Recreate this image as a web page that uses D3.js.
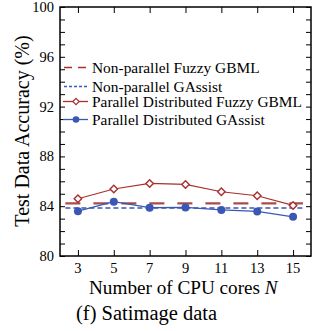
<!DOCTYPE html>
<html>
<head>
<meta charset="utf-8">
<script src="https://cdn.jsdelivr.net/npm/d3@7"></script>
<style>
  body { margin: 0; background: #fff; }
  text { font-family: "Liberation Serif", "Times New Roman", serif; fill: #000; }
</style>
</head>
<body>
<svg id="chart" width="323" height="331"></svg>
<script>
const cores = [3, 5, 7, 9, 11, 13, 15];
const parFuzzy = [84.6, 85.38, 85.83, 85.75, 85.16, 84.84, 84.06];
const parGAssist = [83.6, 84.36, 83.88, 83.9, 83.7, 83.58, 83.15];
const nonParFuzzy = 84.23;
const nonParGAssist = 83.85;
const yTicks = [80, 84, 88, 92, 96, 100];
const legendNames = [
  "Non-parallel Fuzzy GBML",
  "Non-parallel GAssist",
  "Parallel Distributed Fuzzy GBML",
  "Parallel Distributed GAssist"
];

const red = "#a8302f";
const redDash = "#a84c4c";
const blue = "#3a57b4";

const svg = d3.select("#chart");
const pLeft = 60, pRight = 311, pTop = 7, pBottom = 256;

const x = d3.scaleLinear().domain([2, 16]).range([pLeft, pRight]);
const y = d3.scaleLinear().domain([80, 100]).range([pBottom, pTop]);

// ticks, inward on all four sides
const g = svg.append("g");
g.append("g")
  .attr("transform", `translate(${pLeft},0)`)
  .call(d3.axisRight(y).tickValues(d3.range(80, 101, 1)).tickSize(5).tickFormat(""))
  .call((s) => s.select(".domain").remove());
g.append("g")
  .attr("transform", `translate(${pRight},0)`)
  .call(d3.axisLeft(y).tickValues(d3.range(80, 101, 1)).tickSize(5).tickFormat(""))
  .call((s) => s.select(".domain").remove());
g.append("g")
  .attr("transform", `translate(0,${pBottom})`)
  .call(d3.axisTop(x).tickValues(cores).tickSize(6).tickFormat(""))
  .call((s) => s.select(".domain").remove());
g.append("g")
  .attr("transform", `translate(0,${pTop})`)
  .call(d3.axisBottom(x).tickValues(cores).tickSize(6).tickFormat(""))
  .call((s) => s.select(".domain").remove());
g.selectAll(".tick line").attr("stroke", "#000").attr("stroke-width", 1);

// tick labels
svg.selectAll(".ylab")
  .data(yTicks)
  .join("text")
  .attr("class", "ylab")
  .attr("x", pLeft - 6)
  .attr("y", (d) => y(d))
  .attr("dy", "0.35em")
  .attr("text-anchor", "end")
  .style("font-size", "14.5px")
  .text((d) => d);

svg.selectAll(".xlab")
  .data(cores)
  .join("text")
  .attr("class", "xlab")
  .attr("x", (d) => x(d))
  .attr("y", pBottom + 17)
  .attr("text-anchor", "middle")
  .style("font-size", "14.5px")
  .text((d) => d);

// reference lines
svg.append("line")
  .attr("x1", x(2.3)).attr("x2", x(15.55))
  .attr("y1", y(nonParFuzzy)).attr("y2", y(nonParFuzzy))
  .attr("stroke", redDash).attr("stroke-width", 2.2)
  .attr("stroke-dasharray", "15,13");
svg.append("line")
  .attr("x1", x(2.3)).attr("x2", x(15.55))
  .attr("y1", y(nonParGAssist)).attr("y2", y(nonParGAssist))
  .attr("stroke", blue).attr("stroke-width", 1.5)
  .attr("stroke-dasharray", "5,3");

const line = d3.line().x((d) => x(d[0])).y((d) => y(d[1]));

const fuzzyPts = cores.map((c, i) => [c, parFuzzy[i]]);
const gaPts = cores.map((c, i) => [c, parGAssist[i]]);

svg.append("path")
  .attr("d", line(fuzzyPts))
  .attr("fill", "none").attr("stroke", red).attr("stroke-width", 1.2);
svg.append("path")
  .attr("d", line(gaPts))
  .attr("fill", "none").attr("stroke", blue).attr("stroke-width", 1.2);

const diamond = d3.symbol().type(d3.symbolDiamond2).size(36);
svg.selectAll(".dia")
  .data(fuzzyPts)
  .join("path")
  .attr("class", "dia")
  .attr("transform", (d) => `translate(${x(d[0])},${y(d[1])})`)
  .attr("d", diamond())
  .attr("fill", "#fff").attr("stroke", red).attr("stroke-width", 1.4);

svg.selectAll(".dot")
  .data(gaPts)
  .join("circle")
  .attr("class", "dot")
  .attr("cx", (d) => x(d[0]))
  .attr("cy", (d) => y(d[1]))
  .attr("r", 4)
  .attr("fill", blue);

// frame
svg.append("rect")
  .attr("x", pLeft).attr("y", pTop)
  .attr("width", pRight - pLeft).attr("height", pBottom - pTop)
  .attr("fill", "none").attr("stroke", "#000").attr("stroke-width", 1.5);

// legend
const legY = [67.5, 86.5, 101.5, 119.5];
const leg = svg.append("g");
leg.selectAll(".legtxt")
  .data(legendNames)
  .join("text")
  .attr("class", "legtxt")
  .attr("x", 92)
  .attr("y", (d, i) => legY[i])
  .attr("dy", "0.35em")
  .style("font-size", "15.4px")
  .text((d) => d);

leg.append("line")
  .attr("x1", 64).attr("x2", 88)
  .attr("y1", legY[0]).attr("y2", legY[0])
  .attr("stroke", red).attr("stroke-width", 1.3).attr("stroke-dasharray", "8,6");
leg.append("line")
  .attr("x1", 64).attr("x2", 88)
  .attr("y1", legY[1]).attr("y2", legY[1])
  .attr("stroke", blue).attr("stroke-width", 1.3).attr("stroke-dasharray", "3,2");
leg.append("line")
  .attr("x1", 63).attr("x2", 88)
  .attr("y1", legY[2]).attr("y2", legY[2])
  .attr("stroke", red).attr("stroke-width", 1.3);
leg.append("path")
  .attr("transform", `translate(76,${legY[2]})`)
  .attr("d", d3.symbol().type(d3.symbolDiamond2).size(26)())
  .attr("fill", "#fff").attr("stroke", red).attr("stroke-width", 1.2);
leg.append("line")
  .attr("x1", 63).attr("x2", 88)
  .attr("y1", legY[3]).attr("y2", legY[3])
  .attr("stroke", blue).attr("stroke-width", 1.3);
leg.append("circle")
  .attr("cx", 76).attr("cy", legY[3]).attr("r", 3.3)
  .attr("fill", blue);

// axis titles
svg.append("text")
  .attr("transform", "translate(29,131) rotate(-90)")
  .attr("text-anchor", "middle")
  .style("font-size", "20px")
  .text("Test Data Accuracy (%)");

const xt = svg.append("text")
  .attr("x", 89)
  .attr("y", 294)
  .style("font-size", "19.2px");
xt.append("tspan").text("Number of CPU cores ");
xt.append("tspan").style("font-style", "italic").text("N");

svg.append("text")
  .attr("x", 76)
  .attr("y", 320)
  .style("font-size", "20.5px")
  .text("(f) Satimage data");
</script>
</body>
</html>
